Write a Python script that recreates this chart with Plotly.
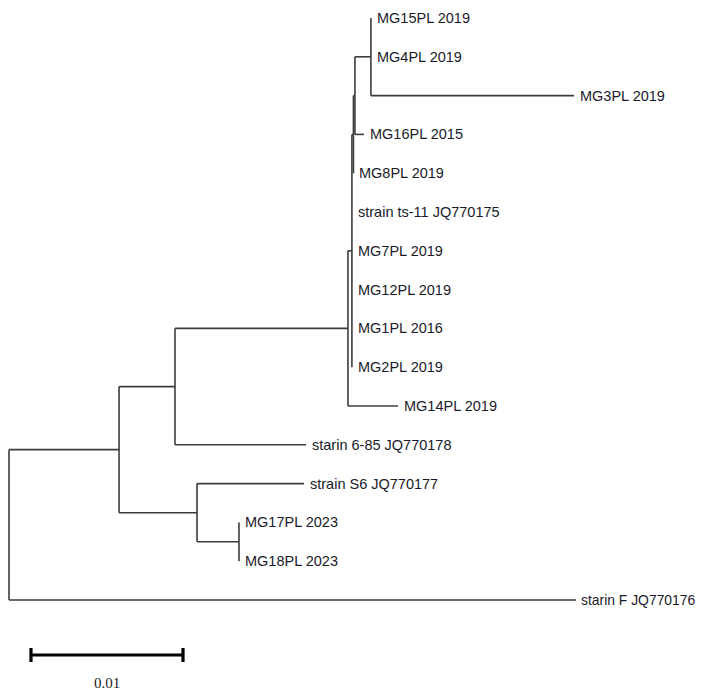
import plotly.graph_objects as go

# ---- Tree data (branch lengths in substitutions/site) ----
node_names = ["root", "G", "F", "E", "D", "C", "B", "A",
              "MG15PL 2019", "MG4PL 2019", "MG3PL 2019", "MG16PL 2015",
              "MG8PL 2019", "strain ts-11 JQ770175", "MG7PL 2019",
              "MG12PL 2019", "MG1PL 2016", "MG2PL 2019", "MG14PL 2019",
              "starin 6-85 JQ770178", "H", "strain S6 JQ770177", "I",
              "MG17PL 2023", "MG18PL 2023", "starin F JQ770176"]
parents = [None, "root", "G", "F", "E", "D", "C", "B",
           "A", "A", "A", "B",
           "C", "D", "D",
           "D", "D", "D", "E",
           "F", "G", "H", "H",
           "I", "I", "root"]
branch_lengths = [0.0, 0.00724, 0.00368, 0.01138, 0.00026, 0.0001, 0.0001, 0.00105,
                  0.0, 0.0, 0.01336, 0.00059,
                  0.0, 0.0, 0.0,
                  0.0, 0.0, 0.0, 0.00329,
                  0.00862, 0.00513, 0.00704, 0.00276,
                  0.0, 0.0, 0.0373]
internal_nodes = ["root", "G", "F", "E", "D", "C", "B", "A", "H", "I"]
scale_value = 0.01
scale_label = "0.01"

# ---- layout computation ----
children = {n: [] for n in node_names}
blen = dict(zip(node_names, branch_lengths))
parent_of = dict(zip(node_names, parents))
for n, p in zip(node_names, parents):
    if p is not None:
        children[p].append(n)

xpos, ypos = {}, {}
leaf_counter = [0]


def walk(n, x):
    xpos[n] = x
    if not children[n]:
        ypos[n] = leaf_counter[0]
        leaf_counter[0] += 1
        return
    for c in children[n]:
        walk(c, x + blen[c])
    ypos[n] = (ypos[children[n][0]] + ypos[children[n][-1]]) / 2.0


walk("root", 0.0)

lx, ly = [], []
for n in node_names:
    p = parent_of[n]
    if p is not None:
        lx += [xpos[p], xpos[n], None]
        ly += [ypos[n], ypos[n], None]
    if children[n]:
        lx += [xpos[n], xpos[n], None]
        ly += [ypos[children[n][0]], ypos[children[n][-1]], None]

fig = go.Figure()
fig.add_trace(go.Scatter(x=lx, y=ly, mode="lines",
                         line=dict(color="#3c3c3c", width=1.6),
                         hoverinfo="skip", showlegend=False))

last_leaf = "starin F JQ770176"
for n in node_names:
    if n in internal_nodes:
        continue
    fig.add_annotation(x=xpos[n], y=ypos[n], text=n, showarrow=False,
                       xanchor="left", yanchor="middle",
                       xshift=3 if n == last_leaf else 4,
                       font=dict(family="Liberation Sans, Arial",
                                 size=13.9 if n == last_leaf else 14.5,
                                 color="#1a1a2a"))

# geometry (page has an 8px body margin)
W, H = 698, 688
px_per_unit = 15200.0
row_px = 38.8
x_left_px = 1.0      # root line position inside the figure
y_top_px = 10.0      # first leaf row inside the figure

sb_x0 = (23 - x_left_px) / px_per_unit
sb_y = (647 - y_top_px) / row_px
cap = 7 / row_px
sb_x1 = sb_x0 + scale_value
bar_style = dict(color="black", width=3.2)
fig.add_shape(type="line", x0=sb_x0, x1=sb_x1, y0=sb_y, y1=sb_y, line=bar_style)
fig.add_shape(type="line", x0=sb_x0, x1=sb_x0, y0=sb_y - cap, y1=sb_y + cap, line=bar_style)
fig.add_shape(type="line", x0=sb_x1, x1=sb_x1, y0=sb_y - cap, y1=sb_y + cap, line=bar_style)
fig.add_annotation(x=(sb_x0 + sb_x1) / 2, y=(675 - y_top_px) / row_px, text=scale_label,
                   showarrow=False, xanchor="center", yanchor="middle",
                   font=dict(family="Liberation Serif, Times New Roman", size=15,
                             color="#222222"))

fig.update_layout(
    width=W, height=H,
    margin=dict(l=0, r=0, t=0, b=0),
    paper_bgcolor="white", plot_bgcolor="white",
    xaxis=dict(range=[-x_left_px / px_per_unit, (W - x_left_px) / px_per_unit],
               visible=False),
    yaxis=dict(range=[(H - y_top_px) / row_px, -y_top_px / row_px], visible=False),
)

fig.write_html("out.html")
